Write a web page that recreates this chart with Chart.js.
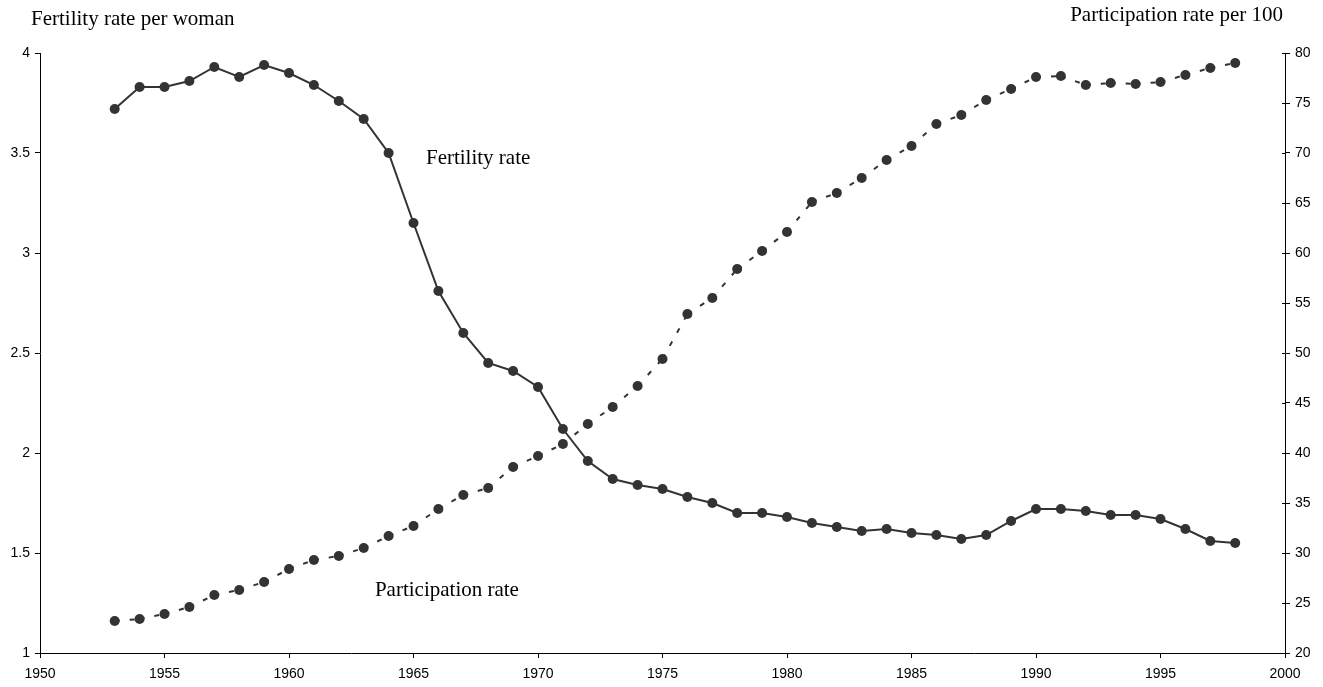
<!DOCTYPE html>
<html>
<head>
<meta charset="utf-8">
<script src="https://cdn.jsdelivr.net/npm/chart.js@4"></script>
<style>
  body { margin: 0; background: #fff; }
  #wrap { width: 1323px; height: 687px; position: relative; }
</style>
</head>
<body>
<div id="wrap"><canvas id="grafico"></canvas></div>
<script>
// dados
const anos = [1953, 1954, 1955, 1956, 1957, 1958, 1959, 1960, 1961, 1962, 1963, 1964, 1965, 1966, 1967,
  1968, 1969, 1970, 1971, 1972, 1973, 1974, 1975, 1976, 1977, 1978, 1979, 1980, 1981, 1982, 1983,
  1984, 1985, 1986, 1987, 1988, 1989, 1990, 1991, 1992, 1993, 1994, 1995, 1996, 1997, 1998];
const fecundidade = [3.72, 3.83, 3.83, 3.86, 3.93, 3.88, 3.94, 3.90, 3.84, 3.76, 3.67, 3.50, 3.15, 2.81, 2.60,
  2.45, 2.41, 2.33, 2.12, 1.96, 1.87, 1.84, 1.82, 1.78, 1.75, 1.70, 1.70, 1.68, 1.65, 1.63, 1.61,
  1.62, 1.60, 1.59, 1.57, 1.59, 1.66, 1.72, 1.72, 1.71, 1.69, 1.69, 1.67, 1.62, 1.56, 1.55];
const participacao = [23.2, 23.4, 23.9, 24.6, 25.8, 26.3, 27.1, 28.4, 29.3, 29.7, 30.5, 31.7, 32.7, 34.4, 35.8,
  36.5, 38.6, 39.7, 40.9, 42.9, 44.6, 46.7, 49.4, 53.9, 55.5, 58.4, 60.2, 62.1, 65.1, 66.0, 67.5,
  69.3, 70.7, 72.9, 73.8, 75.3, 76.4, 77.6, 77.7, 76.8, 77.0, 76.9, 77.1, 77.8, 78.5, 79.0];

const tituloEsq = 'Fertility rate per woman';
const tituloDir = 'Participation rate per 100';
const rotuloFec = 'Fertility rate';
const rotuloPart = 'Participation rate';

const cor = '#333333';
const fonteSerif = '"Liberation Serif", "Times New Roman", serif';
const fonteSans = '"Liberation Sans", Arial, sans-serif';

// títulos dos eixos e rótulos das séries
const textosPlugin = {
  id: 'textos',
  afterDraw(chart) {
    const ctx = chart.ctx;
    const x = chart.scales.x;
    const y = chart.scales.yFec;
    ctx.save();
    ctx.fillStyle = '#000';
    ctx.font = '21px ' + fonteSerif;
    ctx.textBaseline = 'alphabetic';
    ctx.textAlign = 'left';
    ctx.fillText(tituloEsq, 31, 25);
    ctx.textAlign = 'right';
    ctx.fillText(tituloDir, 1283, 21);
    ctx.textAlign = 'left';
    ctx.textBaseline = 'middle';
    ctx.fillText(rotuloFec, x.getPixelForValue(1965.5), y.getPixelForValue(3.475));
    ctx.fillText(rotuloPart, x.getPixelForValue(1963.45), y.getPixelForValue(1.315));
    // marcas internas do eixo direito (cruzando a linha)
    const yd = chart.scales.yPart;
    ctx.strokeStyle = '#000';
    ctx.lineWidth = 1;
    yd.ticks.forEach(t => {
      const py = Math.round(yd.getPixelForValue(t.value)) + 0.5;
      ctx.beginPath();
      ctx.moveTo(yd.left - 3, py);
      ctx.lineTo(yd.left, py);
      ctx.stroke();
    });
    ctx.restore();
  }
};

const eixoBase = {
  grid: { drawOnChartArea: false, drawTicks: true, tickLength: 5, color: '#000' },
  border: { display: true, color: '#000', width: 1 },
};

new Chart(document.getElementById('grafico'), {
  type: 'line',
  data: {
    datasets: [{
      label: 'Fertility rate',
      data: anos.map((a, i) => ({ x: a, y: fecundidade[i] })),
      yAxisID: 'yFec',
      borderColor: cor,
      backgroundColor: cor,
      borderWidth: 2,
      pointRadius: 5,
      pointBorderWidth: 0,
      tension: 0
    }, {
      label: 'Participation rate',
      data: anos.map((a, i) => ({ x: a, y: participacao[i] })),
      yAxisID: 'yPart',
      borderColor: cor,
      backgroundColor: cor,
      borderWidth: 2,
      borderDash: [5, 10],
      // reinicia o tracejado em cada segmento
      segment: { borderDashOffset: c => (c.p0DataIndex % 2 ? 0.0001 : 0) },
      pointRadius: 5,
      pointBorderWidth: 0,
      tension: 0
    }]
  },
  options: {
    responsive: true,
    maintainAspectRatio: false,
    animation: false,
    layout: { padding: { top: 53, left: 0, right: 0, bottom: 0 } },
    plugins: { legend: { display: false }, tooltip: { enabled: false } },
    scales: {
      x: {
        ...eixoBase,
        type: 'linear',
        min: 1950, max: 2000,
        afterFit: s => { s.height = 34; },
        ticks: { stepSize: 5, color: '#000', padding: 8, maxRotation: 0, font: { family: fonteSans, size: 14 }, callback: v => String(v) }
      },
      yFec: {
        ...eixoBase,
        position: 'left',
        min: 1, max: 4,
        afterFit: s => { s.width = 40; },
        ticks: { stepSize: 0.5, color: '#000', padding: 5, font: { family: fonteSans, size: 14 }, callback: v => String(v) }
      },
      yPart: {
        ...eixoBase,
        position: 'right',
        min: 20, max: 80,
        afterFit: s => { s.width = 38; },
        ticks: { stepSize: 5, color: '#000', padding: 5, font: { family: fonteSans, size: 14 }, callback: v => String(v) }
      }
    }
  },
  plugins: [textosPlugin]
});
</script>
</body>
</html>
